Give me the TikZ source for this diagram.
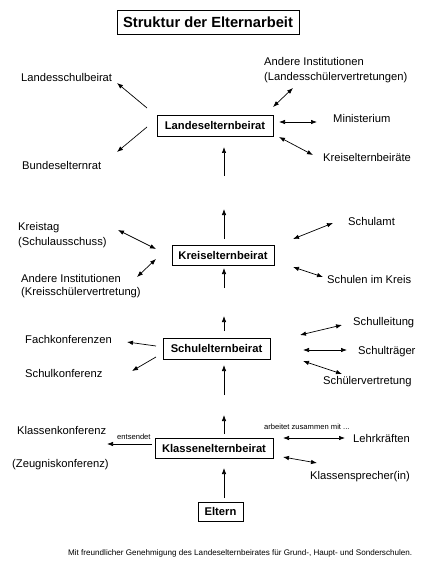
\documentclass[tikz,border=0pt]{standalone}
\usepackage{fontspec}
\setmainfont{Liberation Sans}
\usetikzlibrary{arrows.meta,positioning}

\tikzset{
  gremium/.style={draw, line width=0.9pt, inner sep=0pt, font=\fontsize{11.2}{13}\selectfont\bfseries},
  eintrag/.style={anchor=west, align=left, inner sep=0pt, font=\fontsize{11.2}{14.5}\selectfont},
  klein/.style={anchor=west, inner sep=0pt, font=\fontsize{7.6}{9}\selectfont},
  pfeil/.style={line width=0.7pt, -{Latex[length=6pt,width=4.5pt]}},
  doppel/.style={line width=0.7pt, {Latex[length=6pt,width=4.5pt]}-{Latex[length=6pt,width=4.5pt]}},
}

\begin{document}
\begin{tikzpicture}[x=1pt, y=-1pt]
\useasboundingbox (0,0) rectangle (433,569);

% Titel
\node[draw, line width=0.9pt, minimum width=182, minimum height=24, inner sep=0pt,
      font=\fontsize{14.7}{16}\selectfont\bfseries] (titel) at (208,22) {Struktur der Elternarbeit};

% Gremien (Mitte)
\node[gremium, minimum width=116, minimum height=21] (landes) at (215,125.5) {Landeselternbeirat};
\node[gremium, minimum width=102, minimum height=20] (kreis) at (223,255) {Kreiselternbeirat};
\node[gremium, minimum width=107, minimum height=21] (schul) at (216.5,348.5) {Schulelternbeirat};
\node[gremium, minimum width=118, minimum height=20] (klassen) at (214,448) {Klassenelternbeirat};
\node[gremium, minimum width=45, minimum height=19] (eltern) at (220.5,511.5) {Eltern};

% Landesebene
\node[eintrag] (lsb) at (21,77) {Landesschulbeirat};
\node[eintrag] (bund) at (22,165) {Bundeselternrat};
\node[eintrag] (andereL) at (264,70) {Andere Institutionen\\(Landesschülervertretungen)};
\node[eintrag] (minist) at (333,118) {Ministerium};
\node[eintrag] (kreiseb) at (323,157) {Kreiselternbeiräte};

% Kreisebene
\node[eintrag, font=\fontsize{11.2}{15}\selectfont] (kreistag) at (18,235.5) {Kreistag\\(Schulausschuss)};
\node[eintrag, font=\fontsize{11.2}{13}\selectfont] (andereK) at (21,286.5) {Andere Institutionen\\(Kreisschülervertretung)};
\node[eintrag] (schulamt) at (348,221) {Schulamt};
\node[eintrag] (schulen) at (327,279) {Schulen im Kreis};

% Schulebene
\node[eintrag] (fachk) at (25,339) {Fachkonferenzen};
\node[eintrag] (schulk) at (25,373) {Schulkonferenz};
\node[eintrag] (leitung) at (353,323) {Schulleitung};
\node[eintrag] (traeger) at (358,352) {Schulträger};
\node[eintrag] (schuelerv) at (323,382) {Schülervertretung};

% Klassenebene
\node[eintrag] (klassenk) at (17,430) {Klassenkonferenz};
\node[eintrag] (zeugnis) at (12,465) {(Zeugniskonferenz)};
\node[klein] (entsendet) at (117,437) {entsendet};
\node[klein] (zusammen) at (264,427) {arbeitet zusammen mit ...};
\node[eintrag] (lehrk) at (353,438) {Lehrkräften};
\node[eintrag] (sprecher) at (310,477) {Klassensprecher(in)};

% Quelle
\node[klein, font=\fontsize{8.1}{9}\selectfont] (quelle) at (68,553) {Mit freundlicher Genehmigung des Landeselternbeirates für Grund-, Haupt- und Sonderschulen.};

% Pfeile nach oben
\foreach \n/\ya/\yb in {u1/176/147, u2/239/209, u3/288/268, u4/331/316, u5/395/365, u6/434/415, u7/498/468}{
  \coordinate (\n s) at (224,\ya);
  \coordinate (\n e) at (224,\yb);
  \draw[pfeil] (\n s) -- (\n e);
}

% einfache Pfeile
\foreach \n/\xa/\ya/\xb/\yb in {p1/147/108/117/83, p2/147/127/117/152, p3/156/346/127/342,
                                 p4/156/357/132/371, p5/152/444/107/444}{
  \coordinate (\n s) at (\xa,\ya);
  \coordinate (\n e) at (\xb,\yb);
  \draw[pfeil] (\n s) -- (\n e);
}

% Doppelpfeile
\foreach \n/\xa/\ya/\xb/\yb in {d1/273/107/293/88, d2/279/122/317/122, d3/279/137/313/155,
                                 d4/118/230/156/249, d5/137/277/156/259, d6/293/239/333/223,
                                 d7/293/267/323/277, d8/300/335/342/325, d9/303/350/347/350,
                                 d10/303/361/342/374, d11/283/438/345/438, d12/283/457/317/463}{
  \coordinate (\n s) at (\xa,\ya);
  \coordinate (\n e) at (\xb,\yb);
  \draw[doppel] (\n s) -- (\n e);
}

\end{tikzpicture}
\end{document}
